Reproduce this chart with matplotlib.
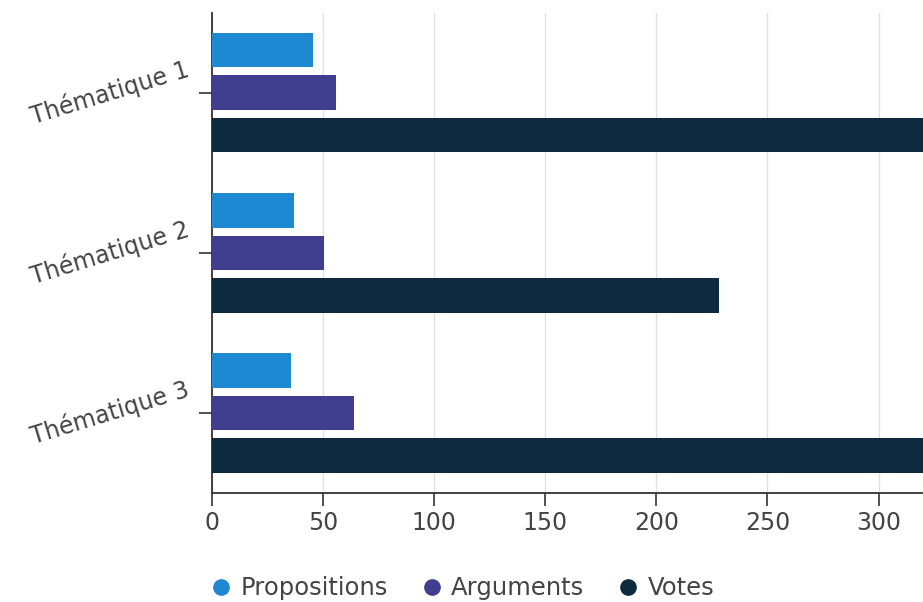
import numpy as np
import matplotlib.pyplot as plt
from matplotlib.lines import Line2D

# donnees
themes = ['Thématique 1', 'Thématique 2', 'Thématique 3']
series = ['Propositions', 'Arguments', 'Votes']
propositions = [45.5, 37, 35.5]
arguments = [56, 50.5, 64]
votes = [345, 228, 345]
colors = ['#1e88d2', '#403e8e', '#0d2a3e']
xticks = [0, 50, 100, 150, 200, 250, 300]

plt.rcParams['font.family'] = ['DejaVu Sans']
text_col = '#444444'

fig = plt.figure(figsize=(9.23, 6.02), dpi=100)
ax = fig.add_axes([0.2297, 0.1806, 1 - 0.2297, 0.9792 - 0.1806])

y = np.arange(len(themes))
h = 0.216
step = 0.265
for i, (name, vals) in enumerate(zip(series, [propositions, arguments, votes])):
    ax.barh(y + (i - 1) * step, vals, height=h, color=colors[i], zorder=3, label=name)

ax.set_xlim(0, 320)
ax.set_ylim(2.5, -0.5)
ax.set_xticks(xticks)
ax.set_yticks(y)
ax.set_yticklabels(themes, rotation=17, ha='right', va='center')

# grille
ax.grid(axis='x', color='#e2e2e2', linewidth=1, zorder=0)
ax.grid(axis='y', visible=False)

for s in ['top', 'right']:
    ax.spines[s].set_visible(False)
for s in ['left', 'bottom']:
    ax.spines[s].set_color('#333333')
    ax.spines[s].set_linewidth(1.3)

ax.tick_params(axis='both', length=9.6, width=1.2, color='#333333',
               labelsize=17, labelcolor=text_col)
ax.tick_params(axis='x', pad=3)
ax.tick_params(axis='y', pad=5)

# legende
handles = [Line2D([0], [0], marker='o', linestyle='none', markersize=11,
                  markerfacecolor=c, markeredgecolor=c) for c in colors]
fig.legend(handles, series, loc='center', bbox_to_anchor=(0.5, 0.023), ncol=3,
           frameon=False, fontsize=17.5, labelcolor=text_col, handletextpad=0.3,
           columnspacing=1.3, handlelength=1.0)

fig.savefig('out.png', dpi=100)
